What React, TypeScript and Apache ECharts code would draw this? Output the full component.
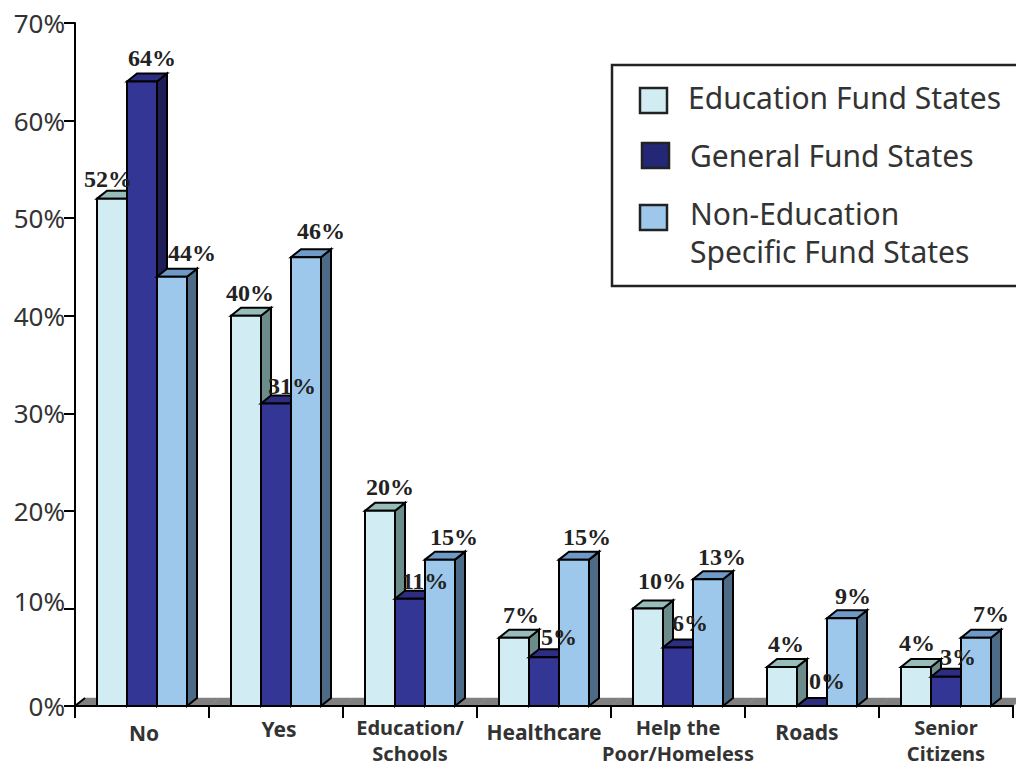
import React, { useEffect, useRef } from "react";
import * as echarts from "echarts";

const categories = [
  "No",
  "Yes",
  "Education/\nSchools",
  "Healthcare",
  "Help the\nPoor/Homeless",
  "Roads",
  "Senior\nCitizens",
];
const educationFund = [52, 40, 20, 7, 10, 4, 4];
const generalFund = [64, 31, 11, 5, 6, 0, 3];
const nonEducationFund = [44, 46, 15, 15, 13, 9, 7];
const yTickMax = 70;
const yTickStep = 10;

const seriesNames = [
  "Education Fund States",
  "General Fund States",
  "Non-Education\nSpecific Fund States",
];
const seriesValues = [educationFund, generalFund, nonEducationFund];

// Front, top and side shades of each extruded column
const shades = [
  { front: "#D2ECF3", top: "#96BDBA", side: "#6B8C8A" },
  { front: "#333695", top: "#2D2D82", side: "#1F1F58" },
  { front: "#9DC8EB", top: "#6F9AC8", side: "#4D6A87" },
];
const swatchFill = ["#D2ECF3", "#242775", "#9DC8EB"];

// Hand placement of the value labels relative to each column's front top edge
const labelDx = [
  [-4, 4, 10, 7, 14, 4, 1],
  [10, 16, 15, 15, 12, 15, 12],
  [20, 15, 14, 13, 14, 11, 15],
];
const labelDy = [
  [-20, -23, -24, -23, -27, -23, -24],
  [-24, -18, -18, -20, -24, -25, -20],
  [-24, -26, -23, -23, -22, -22, -24],
];

// Padding of the single-line category labels that sit off their band centre: [top, right, bottom, left]
const categoryPadding: Record<number, number[]> = {
  0: [13, 0, 0, 4],
  1: [6, 0, 0, 6],
  3: [12, 0, 0, 0],
  5: [12, 10, 0, 0],
};

const DEPTH_X = 10;
const DEPTH_Y = 8;
const SANS = '"Noto Sans", sans-serif';

function polygon(points: number[][], fill: string, stroke = "#000", lineWidth = 2) {
  return {
    type: "polygon",
    shape: { points },
    style: { fill, stroke, lineWidth, lineJoin: "miter" },
  };
}

function renderColumn(seriesIdx: number) {
  return (_: any, api: any) => {
    const cat = api.value(0);
    const val = api.value(1);
    const band = api.size([1, 0])[0];
    const w = (band * 30) / 134;
    const base = api.coord([cat, 0]);
    const tip = api.coord([cat, val]);
    const x0 = base[0] + (seriesIdx - 1.5) * w;
    const x1 = x0 + w;
    const y0 = base[1];
    const y1 = tip[1];
    const c = shades[seriesIdx];
    return {
      type: "group",
      children: [
        polygon(
          [[x1, y1], [x1 + DEPTH_X, y1 - DEPTH_Y], [x1 + DEPTH_X, y0 - DEPTH_Y], [x1, y0]],
          c.side
        ),
        polygon(
          [[x0, y1], [x0 + DEPTH_X, y1 - DEPTH_Y], [x1 + DEPTH_X, y1 - DEPTH_Y], [x1, y1]],
          c.top
        ),
        polygon([[x0, y0], [x1, y0], [x1, y1], [x0, y1]], c.front),
      ],
    };
  };
}

function renderValueLabel(seriesIdx: number) {
  return (_: any, api: any) => {
    const cat = api.value(0);
    const val = api.value(1);
    const band = api.size([1, 0])[0];
    const w = (band * 30) / 134;
    const tip = api.coord([cat, val]);
    return {
      type: "text",
      x: tip[0] + (seriesIdx - 1) * w + labelDx[seriesIdx][cat],
      y: tip[1] + labelDy[seriesIdx][cat],
      style: {
        text: `${val}%`,
        fontFamily: '"Liberation Serif", serif',
        fontWeight: "bold",
        fontSize: 24,
        fill: "#222",
        align: "center",
        verticalAlign: "middle",
      },
    };
  };
}

// Grey floor slab running under the columns, one segment per category
function renderFloor(_: any, api: any) {
  const cat = api.value(0);
  const band = api.size([1, 0])[0];
  const mid = api.coord([cat, 0]);
  const x0 = mid[0] - band / 2;
  const x1 = mid[0] + band / 2;
  const y = mid[1];
  const slab = polygon(
    [[x0, y], [x1, y], [x1 + DEPTH_X, y - DEPTH_Y], [x0 + DEPTH_X, y - DEPTH_Y]],
    "#808080",
    "#808080",
    0.5
  );
  if (cat !== 0) return slab;
  return {
    type: "group",
    children: [
      slab,
      {
        type: "line",
        shape: { x1: x0, y1: y, x2: x0 + DEPTH_X, y2: y - DEPTH_Y },
        style: { stroke: "#000", lineWidth: 2 },
      },
    ],
  };
}

const legendRows = [
  { swatchX: 640, swatchY: 88, textX: 688, textY: 97 },
  { swatchX: 642, swatchY: 143, textX: 690, textY: 155 },
  { swatchX: 640, swatchY: 205, textX: 690, textY: 232 },
];

function legendGraphic() {
  const items: any[] = [
    {
      type: "rect",
      shape: { x: 612, y: 65, width: 420, height: 221 },
      style: { fill: "#fff", stroke: "#222", lineWidth: 2.5 },
      z: 20,
    },
  ];
  legendRows.forEach((row, i) => {
    items.push({
      type: "rect",
      shape: { x: row.swatchX, y: row.swatchY, width: 27, height: 25 },
      style: { fill: swatchFill[i], stroke: "#222", lineWidth: 2.5 },
      z: 21,
    });
    items.push({
      type: "text",
      x: row.textX,
      y: row.textY,
      style: {
        text: seriesNames[i],
        fontFamily: SANS,
        fontSize: 30,
        lineHeight: 38,
        fill: "#333",
        align: "left",
        verticalAlign: "middle",
      },
      z: 21,
    });
  });
  return items;
}

const categoryRich: Record<string, any> = {};
Object.entries(categoryPadding).forEach(([i, padding]) => {
  categoryRich[`c${i}`] = {
    fontFamily: SANS,
    fontWeight: "bold",
    fontSize: 21,
    lineHeight: 24,
    color: "#333",
    padding,
  };
});

export default function App() {
  const ref = useRef<HTMLDivElement>(null);

  useEffect(() => {
    const chart = echarts.init(ref.current!, undefined, { renderer: "svg" });
    const floorData = categories.map((_, i) => [i, 0]);
    chart.setOption({
      animation: false,
      backgroundColor: "#fff",
      grid: {
        left: 75,
        top: 23,
        width: 938,
        height: 683,
        containLabel: false,
        outerBoundsMode: "none",
      },
      xAxis: {
        type: "category",
        data: categories,
        z: 3,
        boundaryGap: true,
        axisLine: { show: true, lineStyle: { color: "#000", width: 2 } },
        axisTick: {
          show: true,
          alignWithLabel: false,
          length: 12,
          lineStyle: { color: "#000", width: 2 },
        },
        axisLabel: {
          interval: 0,
          margin: 8,
          hideOverlap: false,
          fontFamily: SANS,
          fontWeight: "bold",
          fontSize: 20,
          lineHeight: 26,
          color: "#333",
          formatter: (value: string, index: number) =>
            categoryPadding[index] ? `{c${index}|${value}}` : value,
          rich: categoryRich,
        },
      },
      yAxis: {
        type: "value",
        min: 0,
        max: yTickMax,
        interval: yTickStep,
        z: 3,
        splitLine: { show: false },
        axisLine: { show: true, lineStyle: { color: "#000", width: 2 } },
        axisTick: { show: true, length: 11, lineStyle: { color: "#000", width: 2 } },
        axisLabel: {
          // The 10% label sits a little above its tick
          formatter: (value: number) => (value === 10 ? `{raised|${value}%}` : `${value}%`),
          margin: 10,
          fontFamily: SANS,
          fontSize: 26,
          color: "#333",
          rich: {
            raised: {
              fontFamily: SANS,
              fontSize: 26,
              color: "#333",
              padding: [0, 0, 14, 0],
            },
          },
        },
      },
      series: [
        {
          type: "custom",
          name: "floor",
          z: 1,
          renderItem: renderFloor,
          data: floorData,
          encode: { x: 0, y: 1 },
          silent: true,
        },
        ...seriesValues.map((vals, s) => ({
          type: "custom",
          name: seriesNames[s],
          z: 4 + s,
          renderItem: renderColumn(s),
          data: vals.map((v, i) => [i, v]),
          encode: { x: 0, y: 1 },
        })),
        ...seriesValues.map((vals, s) => ({
          type: "custom",
          name: `${seriesNames[s]} labels`,
          z: 10,
          renderItem: renderValueLabel(s),
          data: vals.map((v, i) => [i, v]),
          encode: { x: 0, y: 1 },
        })),
      ],
      graphic: legendGraphic(),
    });
    return () => chart.dispose();
  }, []);

  return (
    <div
      ref={ref}
      style={{ position: "absolute", left: 0, top: 0, width: 1016, height: 767 }}
    />
  );
}
